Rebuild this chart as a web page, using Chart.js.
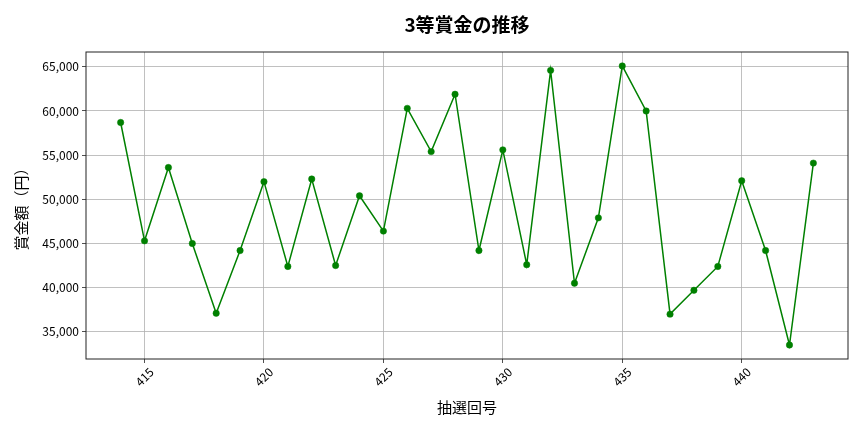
<!DOCTYPE html>
<html>
<head>
<meta charset="utf-8">
<script src="https://cdn.jsdelivr.net/npm/chart.js@4"></script>
<style>
    html, body { margin: 0; padding: 0; background: #fff; }
    #wrap { width: 864px; height: 432px; }
</style>
</head>
<body>
<div id="wrap"><canvas id="prizeChart"></canvas></div>
<script>
// 抽選回号 and 3等賞金 (円)
const rounds = [414, 415, 416, 417, 418, 419, 420, 421, 422, 423,
                424, 425, 426, 427, 428, 429, 430, 431, 432, 433,
                434, 435, 436, 437, 438, 439, 440, 441, 442, 443];
const prizes = [58700, 45300, 53600, 45000, 37100, 44200, 52000, 42400, 52300, 42500,
                50400, 46400, 60300, 55400, 61900, 44200, 55600, 42600, 64600, 40500,
                47900, 65100, 60000, 37000, 39700, 42400, 52100, 44200, 33500, 54100];
const xTicks = [415, 420, 425, 430, 435, 440];
const yTicks = [35000, 40000, 45000, 50000, 55000, 60000, 65000];
const chartTitle = '3等賞金の推移';

const FONT = '"Noto Sans CJK JP", "Noto Sans", sans-serif';

// matplotlib-like 5% margins
function padRange(values) {
    const lo = Math.min(...values);
    const hi = Math.max(...values);
    const m = (hi - lo) * 0.05;
    return [lo - m, hi + m];
}
const [xMin, xMax] = padRange(rounds);
const [yMin, yMax] = padRange(prizes);

const frameAndLabels = {
    id: 'frameAndLabels',
    afterDraw(chart) {
        const { ctx, chartArea } = chart;
        const xs = chart.scales.x;
        ctx.save();
        ctx.strokeStyle = '#222';
        ctx.lineWidth = 1;
        ctx.strokeRect(chartArea.left, chartArea.top,
            chartArea.right - chartArea.left, chartArea.bottom - chartArea.top);

        // title centred over the plot area
        ctx.fillStyle = '#000';
        ctx.font = 'bold 19px ' + FONT;
        ctx.textAlign = 'center';
        ctx.textBaseline = 'middle';
        ctx.fillText(chartTitle, (chartArea.left + chartArea.right) / 2, 25);

        // rotated, centred x tick labels
        ctx.font = '12px ' + FONT;
        xTicks.forEach(t => {
            const px = xs.getPixelForValue(t);
            ctx.save();
            ctx.translate(px, chartArea.bottom + 18);
            ctx.rotate(-Math.PI / 4);
            ctx.fillText(String(t), 0, 0);
            ctx.restore();
        });
        ctx.restore();
    }
};

new Chart(document.getElementById('prizeChart'), {
    type: 'line',
    data: {
        datasets: [{
            data: rounds.map((r, i) => ({ x: r, y: prizes[i] })),
            borderColor: '#008000',
            backgroundColor: '#008000',
            borderWidth: 1.5,
            pointRadius: 3.2,
            pointBorderWidth: 0.5,
            pointHoverRadius: 3.2,
            tension: 0
        }]
    },
    options: {
        responsive: true,
        maintainAspectRatio: false,
        animation: false,
        layout: { padding: { left: 0, right: 16, top: 52, bottom: 0 } },
        plugins: {
            legend: { display: false },
            tooltip: { enabled: false },
            title: { display: false }
        },
        scales: {
            x: {
                type: 'linear',
                min: xMin,
                max: xMax,
                afterBuildTicks: scale => { scale.ticks = xTicks.map(v => ({ value: v })); },
                afterFit: scale => { scale.height = 73; },
                ticks: { display: false },
                grid: { color: '#b0b0b0', lineWidth: 0.8, tickColor: '#222', tickLength: 4 },
                border: { display: false },
                title: {
                    display: true,
                    text: '抽選回号',
                    color: '#000',
                    font: { family: FONT, size: 15, lineHeight: 1.2 },
                    padding: { top: 0, bottom: 16 }
                }
            },
            y: {
                min: yMin,
                max: yMax,
                afterBuildTicks: scale => { scale.ticks = yTicks.map(v => ({ value: v })); },
                afterFit: scale => { scale.width = 86; },
                ticks: {
                    color: '#000',
                    padding: 3,
                    font: { family: FONT, size: 12 },
                    callback: v => v.toLocaleString('en-US')
                },
                grid: { color: '#b0b0b0', lineWidth: 0.8, tickColor: '#222', tickLength: 4 },
                border: { display: false },
                title: {
                    display: true,
                    text: '賞金額（円）',
                    color: '#000',
                    font: { family: FONT, size: 15, lineHeight: 1.2 },
                    padding: { top: 12, bottom: 0 }
                }
            }
        }
    },
    plugins: [frameAndLabels]
});
</script>
</body>
</html>
